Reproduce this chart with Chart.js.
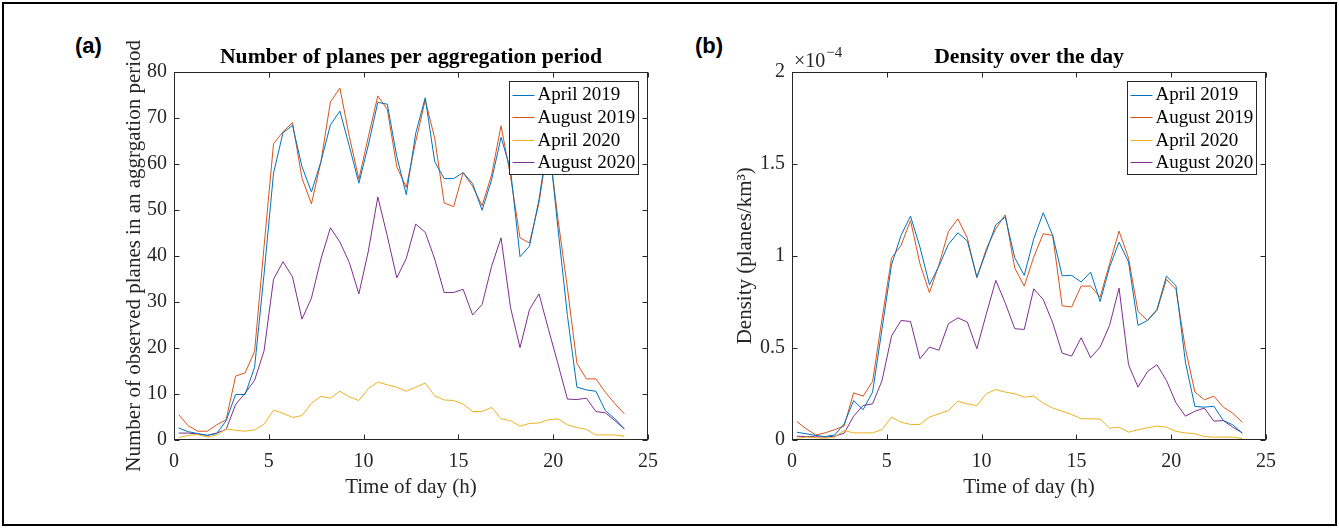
<!DOCTYPE html>
<html>
<head>
<meta charset="utf-8">
<script src="https://cdn.jsdelivr.net/npm/chart.js@4.4.1/dist/chart.umd.min.js"></script>
<style>
  body { margin: 0; background: #fff; width: 1339px; height: 528px; position: relative; overflow: hidden; }
  .frame { position: absolute; left: 2px; top: 2px; width: 1335px; height: 524px; border: 2px solid #000; box-sizing: border-box; z-index: 5; }
  .panel-tag { position: absolute; font: bold 22px "Liberation Sans", Arial, sans-serif; color: #000; }
  .expo { position: absolute; left: 794px; top: 46px; font: 20px "Liberation Serif", "Times New Roman", serif; color: #262626; }
  .expo sup { font-size: 15px; position: relative; top: -2px; margin-left: 1px; }
  canvas { position: absolute; }
</style>
</head>
<body>
<div class="frame"></div>
<div class="panel-tag" style="left:75px; top:33px;">(a)</div>
<div class="panel-tag" style="left:695px; top:33px;">(b)</div>
<canvas id="chartA" width="580" height="490" style="left:90px; top:30px;"></canvas>
<canvas id="chartB" width="590" height="490" style="left:700px; top:30px;"></canvas>
<div class="expo">&times;10<sup>&minus;4</sup></div>

<script>
// ---- data (one value per half hour) ----
const hours = [0.25, 0.75, 1.25, 1.75, 2.25, 2.75, 3.25, 3.75, 4.25, 4.75, 5.25, 5.75,
  6.25, 6.75, 7.25, 7.75, 8.25, 8.75, 9.25, 9.75, 10.25, 10.75, 11.25, 11.75,
  12.25, 12.75, 13.25, 13.75, 14.25, 14.75, 15.25, 15.75, 16.25, 16.75, 17.25, 17.75,
  18.25, 18.75, 19.25, 19.75, 20.25, 20.75, 21.25, 21.75, 22.25, 22.75, 23.25, 23.75];

const seriesNames = ["April 2019", "August 2019", "April 2020", "August 2020"];
const seriesColors = ["#0072BD", "#D95319", "#EDB120", "#7E2F8E"];

// (a) number of planes per aggregation period
const countApr19 = [2.5, 1.7, 1.3, 0.9, 1.3, 4.1, 9.8, 9.8, 15.7, 36, 58.0, 66.8,
  68.4, 59.4, 53.9, 60.5, 68.5, 71.5, 63.8, 55.8, 64.1, 73.4, 73.0, 61.6,
  53.3, 66.7, 74.4, 60.5, 56.8, 56.8, 58.1, 55.7, 49.9, 56.5, 65.8, 58.7,
  39.8, 42.1, 52.2, 66, 46, 27, 11.4, 10.8, 10.5, 6.3, 4.5, 2.3];
const countAug19 = [5.4, 3.0, 1.8, 1.8, 3.2, 4.3, 13.8, 14.5, 19.2, 42, 64.4, 67.0,
  69.0, 56.9, 51.3, 60.5, 73.5, 76.5, 65.9, 56.7, 65.9, 74.8, 71.9, 59.4,
  54.9, 64.9, 73.9, 65.6, 51.5, 50.7, 58.1, 55.1, 50.9, 57.6, 68.3, 57.3,
  43.9, 42.8, 51.5, 65, 48, 33, 16.6, 13.2, 13.2, 10.3, 7.8, 5.6];
const countApr20 = [0.4, 0.9, 1.1, 0.5, 1.0, 2.3, 2.0, 1.8, 2.1, 3.3, 6.4, 5.7,
  4.8, 5.2, 7.9, 9.4, 9.0, 10.5, 9.3, 8.5, 11.1, 12.5, 11.9, 11.4,
  10.5, 11.4, 12.3, 9.5, 8.6, 8.5, 7.7, 6.1, 6.1, 7.0, 4.5, 4.1,
  2.9, 3.5, 3.6, 4.3, 4.5, 3.2, 2.6, 2.2, 1.0, 1.0, 1.0, 0.7];
const countAug20 = [1.4, 1.4, 1.2, 0.9, 1.4, 2.2, 7.6, 10.1, 12.9, 19.3, 34.9, 38.7,
  35.4, 26.2, 30.8, 39.3, 46.1, 43.0, 38.5, 31.7, 41.0, 52.8, 44.3, 35.2,
  39.4, 46.9, 45.1, 39.3, 32.0, 32.0, 32.7, 27.1, 29.4, 37.7, 43.9, 28.7,
  20.0, 28.3, 31.7, 24, 16.5, 8.8, 8.7, 9.0, 6.1, 5.8, 4.1, 2.3];

// (b) density, in units of 1e-4 planes/km^3
const densApr19 = [0.040, 0.031, 0.022, 0.016, 0.025, 0.085, 0.212, 0.162, 0.258, 0.603, 0.951, 1.111,
  1.216, 1.047, 0.842, 0.944, 1.062, 1.125, 1.080, 0.884, 1.024, 1.169, 1.211, 0.989,
  0.893, 1.093, 1.234, 1.111, 0.891, 0.893, 0.857, 0.911, 0.751, 0.938, 1.074, 0.966,
  0.621, 0.648, 0.708, 0.889, 0.838, 0.421, 0.180, 0.176, 0.181, 0.103, 0.080, 0.034];
const densAug19 = [0.098, 0.058, 0.025, 0.036, 0.054, 0.073, 0.254, 0.236, 0.316, 0.657, 0.987, 1.056,
  1.192, 0.956, 0.799, 0.951, 1.132, 1.201, 1.096, 0.880, 1.038, 1.147, 1.223, 0.933,
  0.835, 0.993, 1.120, 1.111, 0.728, 0.721, 0.835, 0.835, 0.775, 0.956, 1.134, 0.987,
  0.697, 0.648, 0.702, 0.871, 0.817, 0.494, 0.258, 0.216, 0.236, 0.176, 0.143, 0.094];
const densApr20 = [0.007, 0.013, 0.009, 0.007, 0.013, 0.049, 0.036, 0.036, 0.036, 0.054, 0.122, 0.094,
  0.082, 0.082, 0.122, 0.140, 0.158, 0.209, 0.194, 0.185, 0.249, 0.272, 0.258, 0.249,
  0.230, 0.236, 0.198, 0.171, 0.154, 0.136, 0.113, 0.113, 0.111, 0.062, 0.067, 0.040,
  0.053, 0.064, 0.073, 0.067, 0.044, 0.036, 0.031, 0.016, 0.013, 0.013, 0.013, 0.005];
const densAug20 = [0.018, 0.016, 0.015, 0.013, 0.018, 0.034, 0.127, 0.185, 0.194, 0.321, 0.563, 0.648,
  0.642, 0.439, 0.503, 0.486, 0.630, 0.662, 0.639, 0.494, 0.684, 0.866, 0.742, 0.603,
  0.599, 0.820, 0.762, 0.635, 0.470, 0.454, 0.554, 0.445, 0.503, 0.621, 0.824, 0.407,
  0.285, 0.370, 0.407, 0.321, 0.200, 0.127, 0.154, 0.171, 0.100, 0.103, 0.067, 0.036];

const SERIF = "'Liberation Serif', 'Times New Roman', serif";
const AXIS_COLOR = "#262626";

// box round the axes with inward ticks on all four sides (matlab look)
const boxPlugin = {
  id: "box",
  afterDatasetsDraw(chart) {
    const { ctx, chartArea: a, scales } = chart;
    const L = Math.round(a.left) + 0.5, R = Math.round(a.right) - 0.5;
    const T = Math.round(a.top) + 0.5, B = Math.round(a.bottom) - 0.5;
    const len = 5;
    ctx.save();
    ctx.strokeStyle = AXIS_COLOR;
    ctx.lineWidth = 1;
    ctx.strokeRect(L, T, R - L, B - T);
    ctx.beginPath();
    scales.x.ticks.forEach((t) => {
      const px = Math.round(scales.x.getPixelForValue(t.value)) + 0.5;
      ctx.moveTo(px, B); ctx.lineTo(px, B - len);
      ctx.moveTo(px, T); ctx.lineTo(px, T + len);
    });
    scales.y.ticks.forEach((t) => {
      const py = Math.round(scales.y.getPixelForValue(t.value)) + 0.5;
      ctx.moveTo(L, py); ctx.lineTo(L + len, py);
      ctx.moveTo(R, py); ctx.lineTo(R - len, py);
    });
    ctx.stroke();
    ctx.restore();
  },
};

// legend box in the upper right corner of the plot
const legendBox = {
  id: "legendBox",
  afterDraw(chart) {
    const { ctx, chartArea: a } = chart;
    const sets = chart.data.datasets;
    ctx.save();
    ctx.font = "19px " + SERIF;
    const textW = Math.max(...sets.map((d) => ctx.measureText(d.label).width));
    const rowH = 22.6;
    const w = Math.round(3 + 22 + 3 + textW + 3);
    const h = Math.round(rowH * sets.length + 3);
    const x = Math.round(a.right - 10 - w) + 0.5;
    const y = Math.round(a.top + 9) + 0.5;
    ctx.fillStyle = "#fff";
    ctx.fillRect(x, y, w, h);
    ctx.strokeStyle = AXIS_COLOR;
    ctx.lineWidth = 1;
    ctx.strokeRect(x, y, w, h);
    ctx.textBaseline = "middle";
    sets.forEach((d, i) => {
      const cy = y + 13 + i * rowH;
      ctx.strokeStyle = d.borderColor;
      ctx.beginPath();
      ctx.moveTo(x + 3, Math.round(cy) + 0.5);
      ctx.lineTo(x + 25, Math.round(cy) + 0.5);
      ctx.stroke();
      ctx.fillStyle = "#000";
      ctx.fillText(d.label, x + 28, cy + 1);
    });
    ctx.restore();
  },
};

function makeChart(id, opts) {
  const datasets = opts.series.map((vals, i) => ({
    label: seriesNames[i],
    data: hours.map((h, k) => ({ x: h, y: vals[k] })),
    borderColor: seriesColors[i],
    backgroundColor: seriesColors[i],
    borderWidth: 1,
    pointRadius: 0,
    tension: 0,
  }));

  return new Chart(document.getElementById(id), {
    type: "line",
    data: { datasets },
    plugins: [boxPlugin, legendBox],
    options: {
      responsive: false,
      animation: false,
      devicePixelRatio: 1,
      layout: { padding: { left: 0, right: opts.padRight, top: 9, bottom: 0 } },
      plugins: {
        legend: { display: false },
        tooltip: { enabled: false },
        title: {
          display: true,
          fullSize: false, // centre the title over the plot, not the canvas
          text: opts.title,
          color: "#000",
          font: { family: SERIF, size: 21.7, weight: "bold", lineHeight: 1.2 },
          padding: { top: 5, bottom: 2 },
        },
      },
      scales: {
        x: {
          type: "linear",
          min: 0,
          max: 25,
          grid: { display: false, drawTicks: false },
          border: { display: false },
          ticks: { stepSize: 5, padding: 10, color: AXIS_COLOR, font: { family: SERIF, size: 20 } },
          title: {
            display: true,
            text: "Time of day (h)",
            color: AXIS_COLOR,
            font: { family: SERIF, size: 21, lineHeight: 1.2 },
            padding: { top: 0, bottom: 20.4 },
          },
          afterFit: (s) => { s.height = 80.5; },
        },
        y: {
          min: 0,
          max: opts.yMax,
          grid: { display: false, drawTicks: false },
          border: { display: false },
          ticks: {
            stepSize: opts.yStep,
            padding: 7,
            color: AXIS_COLOR,
            font: { family: SERIF, size: 20 },
            callback: (v) => String(v),
          },
          title: {
            display: true,
            text: opts.yTitle,
            color: AXIS_COLOR,
            font: { family: SERIF, size: 21, lineHeight: 1.2 },
            padding: { top: opts.yTitlePad, bottom: 0 },
          },
          afterFit: (s) => { s.width = opts.yWidth; },
        },
      },
    },
  });
}

makeChart("chartA", {
  series: [countApr19, countAug19, countApr20, countAug20],
  title: "Number of planes per aggregation period",
  yTitle: "Number of observed planes in an aggrgation period",
  yMax: 80,
  yStep: 10,
  yWidth: 84,
  yTitlePad: 31.4,
  padRight: 22,
});

makeChart("chartB", {
  series: [densApr19, densAug19, densApr20, densAug20],
  title: "Density over the day",
  yTitle: "Density (planes/km\u00B3)",
  yMax: 2,
  yStep: 0.5,
  yWidth: 92,
  yTitlePad: 32.4,
  padRight: 24,
});
</script>
</body>
</html>
